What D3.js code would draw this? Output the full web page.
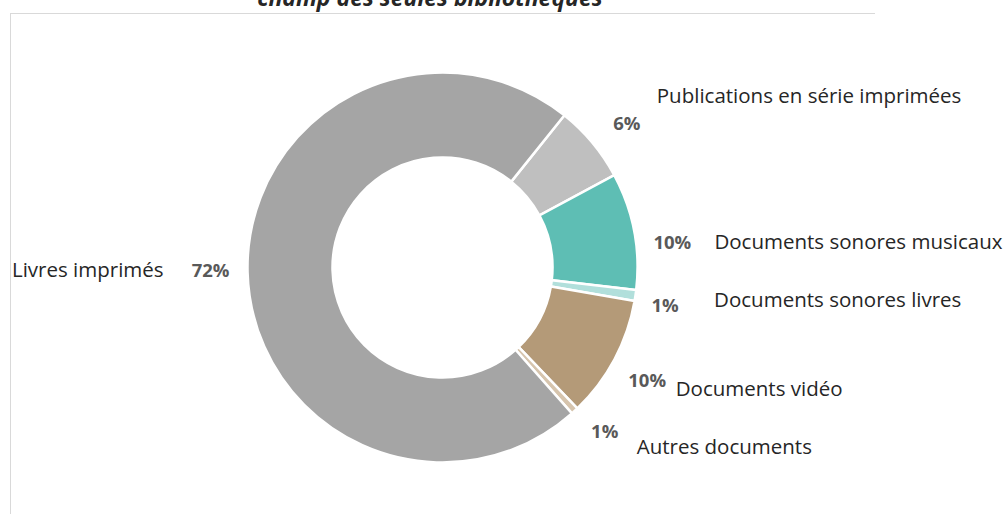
<!DOCTYPE html>
<html>
<head>
<meta charset="utf-8">
<script src="https://cdn.jsdelivr.net/npm/d3@7"></script>
<style>
  html, body { margin: 0; padding: 0; background: #fff; }
  svg { display: block; }
</style>
</head>
<body>
<svg id="chart" width="1006" height="514"></svg>
<script>
// ---- data ----
const categories = ["Publications en série imprimées", "Documents sonores musicaux", "Documents sonores livres", "Documents vidéo", "Autres documents", "Livres imprimés"];
const values = [6.4, 9.7, 0.9, 10.1, 0.6, 72.3];
const colors = ["#bfbfbf", "#5ebeb4", "#b1dfdb", "#b49a78", "#d6c4ad", "#a5a5a5"];
const titleText = "champ des seules bibliothèques";

// ---- layout: nudges of percentage labels and category text positions ----
const pctOffsets = [[6, 3], [2, 17], [-7, 4], [0, 3], [5, -8], [0, -4]];
const catOffsets = [
  {dx: 30, dy: -27, anchor: "start"},
  {dx: 42, dy: 0, anchor: "start"},
  {dx: 49, dy: -6, anchor: "start"},
  {dx: 28.5, dy: 8, anchor: "start"},
  {dx: 32, dy: 16, anchor: "start"},
  {dx: -47, dy: 0, anchor: "end"}
];

const svg = d3.select("#chart");
const cx = 442.5, cy = 267.5, rOuter = 195, rInner = 110, rLabel = 232;

// frame lines
svg.append("line").attr("x1", 10).attr("x2", 875).attr("y1", 13.5).attr("y2", 13.5)
  .attr("stroke", "#d9d9d9").attr("stroke-width", 1);
svg.append("line").attr("x1", 10.5).attr("x2", 10.5).attr("y1", 13).attr("y2", 514)
  .attr("stroke", "#d9d9d9").attr("stroke-width", 1);

// title (partially cut at the top, as in the reference)
svg.append("text").attr("x", 430).attr("y", 6)
  .attr("text-anchor", "middle")
  .attr("font-family", "'Open Sans', sans-serif")
  .attr("font-size", 23).attr("font-weight", "bold").attr("font-style", "italic")
  .attr("fill", "#262626")
  .text(titleText);

const data = categories.map((c, i) => ({cat: c, value: values[i], color: colors[i], off: catOffsets[i], poff: pctOffsets[i]}));

const startDeg = 38.7;
const pie = d3.pie().sort(null).value(d => d.value)
  .startAngle(startDeg * Math.PI / 180)
  .endAngle(startDeg * Math.PI / 180 + 2 * Math.PI);
const arcs = pie(data);
const arc = d3.arc().innerRadius(rInner).outerRadius(rOuter);

const g = svg.append("g").attr("transform", `translate(${cx},${cy})`);
g.selectAll("path.slice").data(arcs).join("path")
  .attr("class", "slice")
  .attr("d", arc)
  .attr("fill", d => d.data.color)
  .attr("stroke", "#fff").attr("stroke-width", 2.5).attr("stroke-linejoin", "miter");

const fmt = v => Math.round(v) + "%";

arcs.forEach(a => {
  const mid = (a.startAngle + a.endAngle) / 2;
  const x = rLabel * Math.sin(mid) + a.data.poff[0];
  const y = -rLabel * Math.cos(mid) + a.data.poff[1];
  g.append("text")
    .attr("x", x).attr("y", y)
    .attr("text-anchor", "middle").attr("dominant-baseline", "central")
    .attr("font-family", "'Open Sans', sans-serif")
    .attr("font-size", 18.5).attr("font-weight", "bold")
    .attr("fill", "#595959")
    .text(fmt(a.data.value));
  const o = a.data.off;
  g.append("text")
    .attr("x", x + o.dx).attr("y", y + o.dy)
    .attr("text-anchor", o.anchor).attr("dominant-baseline", "central")
    .attr("font-family", "'Open Sans', sans-serif")
    .attr("font-size", 20.5)
    .attr("fill", "#262626")
    .text(a.data.cat);
});
</script>
</body>
</html>
